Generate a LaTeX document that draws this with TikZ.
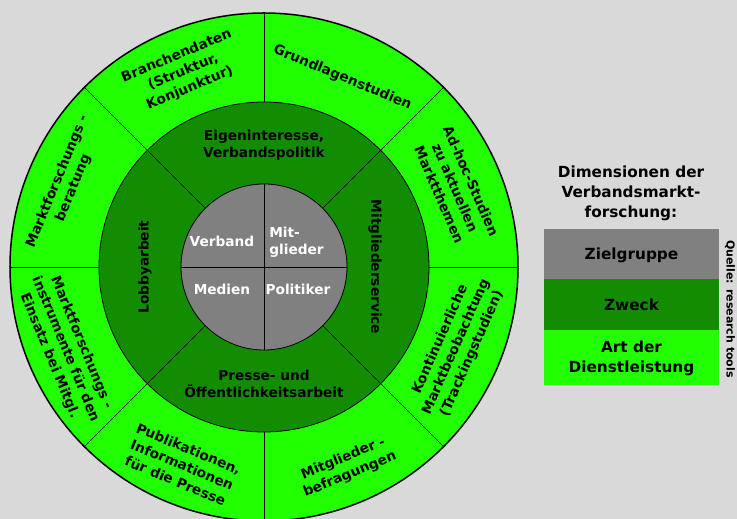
\documentclass[tikz,border=0pt]{standalone}
\usepackage{fontspec}
\setmainfont{DejaVu Sans}
\definecolor{bg}{HTML}{D9D9D9}
\definecolor{lgreen}{HTML}{22FF00}
\definecolor{dgreen}{HTML}{128C00}
\definecolor{gry}{HTML}{808080}
\begin{document}
\begin{tikzpicture}[x=1pt,y=1pt,
  lbl/.style={font=\bfseries\fontsize{13.7}{17.3}\selectfont, align=center, inner sep=0pt, text=black},
  wlbl/.style={lbl, text=white},
  ttl/.style={font=\bfseries\fontsize{15.3}{20}\selectfont, align=center, inner sep=0pt},
  ring/.style={draw=black, line width=0.8pt},
  sep/.style={draw=black, line width=0.7pt}]
\clip (-264,-252) rectangle (473,267);
\fill[bg] (-264,-252) rectangle (473,267);
% rings
\fill[lgreen] (0,0) circle (254);
\filldraw[ring, fill=dgreen] (0,0) circle (165);
\filldraw[ring, fill=gry] (0,0) circle (83);
% separators
\foreach \a in {45,135,225,315} \draw[sep] (\a:83) -- (\a:254);
\foreach \a in {0,90,180,270} \draw[sep] (\a:165) -- (\a:254);
\draw[sep] (-83,0) -- (83,0);
\draw[sep] (0,-83) -- (0,83);
\draw[black, line width=1.5pt] (0,0) circle (254);
% outer ring texts
\node[lbl, rotate=22.5]  (o1) at (112.5:211) {Branchendaten\\(Struktur,\\Konjunktur)};
\node[lbl, rotate=-22.5] (o2) at (67.5:205) {Grundlagenstudien};
\node[lbl, rotate=-66.5] (o3) at (22.5:207) {Ad-hoc-Studien\\zu aktuellen\\Marktthemen};
\node[lbl, rotate=66]  (o4) at (-22.5:208) {Kontinuierliche\\Marktbeobachtung\\(Trackingstudien)};
\node[lbl, rotate=22.5]  (o5) at (-67.5:216) {Mitglieder -\\befragungen};
\node[lbl, rotate=-22.5] (o6) at (-112.5:214) {Publikationen,\\Informationen\\für die Presse};
\node[lbl, rotate=-67.5] (o7) at (-157.5:215) {Marktforschungs -\\instrumente für den\\Einsatz bei Mitgl.};
\node[lbl, rotate=67.5]  (o8) at (157.5:215) {Marktforschungs -\\beratung};
% middle ring texts
\node[lbl] (m1) at (0,122) {Eigeninteresse,\\Verbandspolitik};
\node[lbl, rotate=-90] (m2) at (111,0) {Mitgliederservice};
\node[lbl] (m3) at (0,-117) {Presse- und\\Öffentlichkeitsarbeit};
\node[lbl, rotate=90] (m4) at (-119,0) {Lobbyarbeit};
% inner texts
\node[wlbl] (i1) at (-42,26) {Verband};
\node[wlbl, align=left] (i2) at (32.5,24.5) {Mit-\\glieder};
\node[wlbl] (i3) at (-42,-22) {Medien};
\node[wlbl] (i4) at (34,-22) {Politiker};
% legend
\node[ttl] (t) at (367,74) {Dimensionen der\\Verbandsmarkt-\\forschung:};
\fill[gry] (280,38) rectangle (455,-12);
\fill[dgreen] (280,-12) rectangle (455,-63);
\fill[lgreen] (280,-63) rectangle (455,-118);
\node[ttl] (l1) at (367.5,12) {Zielgruppe};
\node[ttl] (l2) at (367.5,-38) {Zweck};
\node[ttl] (l3) at (367.5,-91) {Art der\\Dienstleistung};
\node[font=\bfseries\fontsize{11}{13}\selectfont, rotate=-90, inner sep=0pt] (q) at (466,-42) {Quelle: research tools};
\end{tikzpicture}
\end{document}
